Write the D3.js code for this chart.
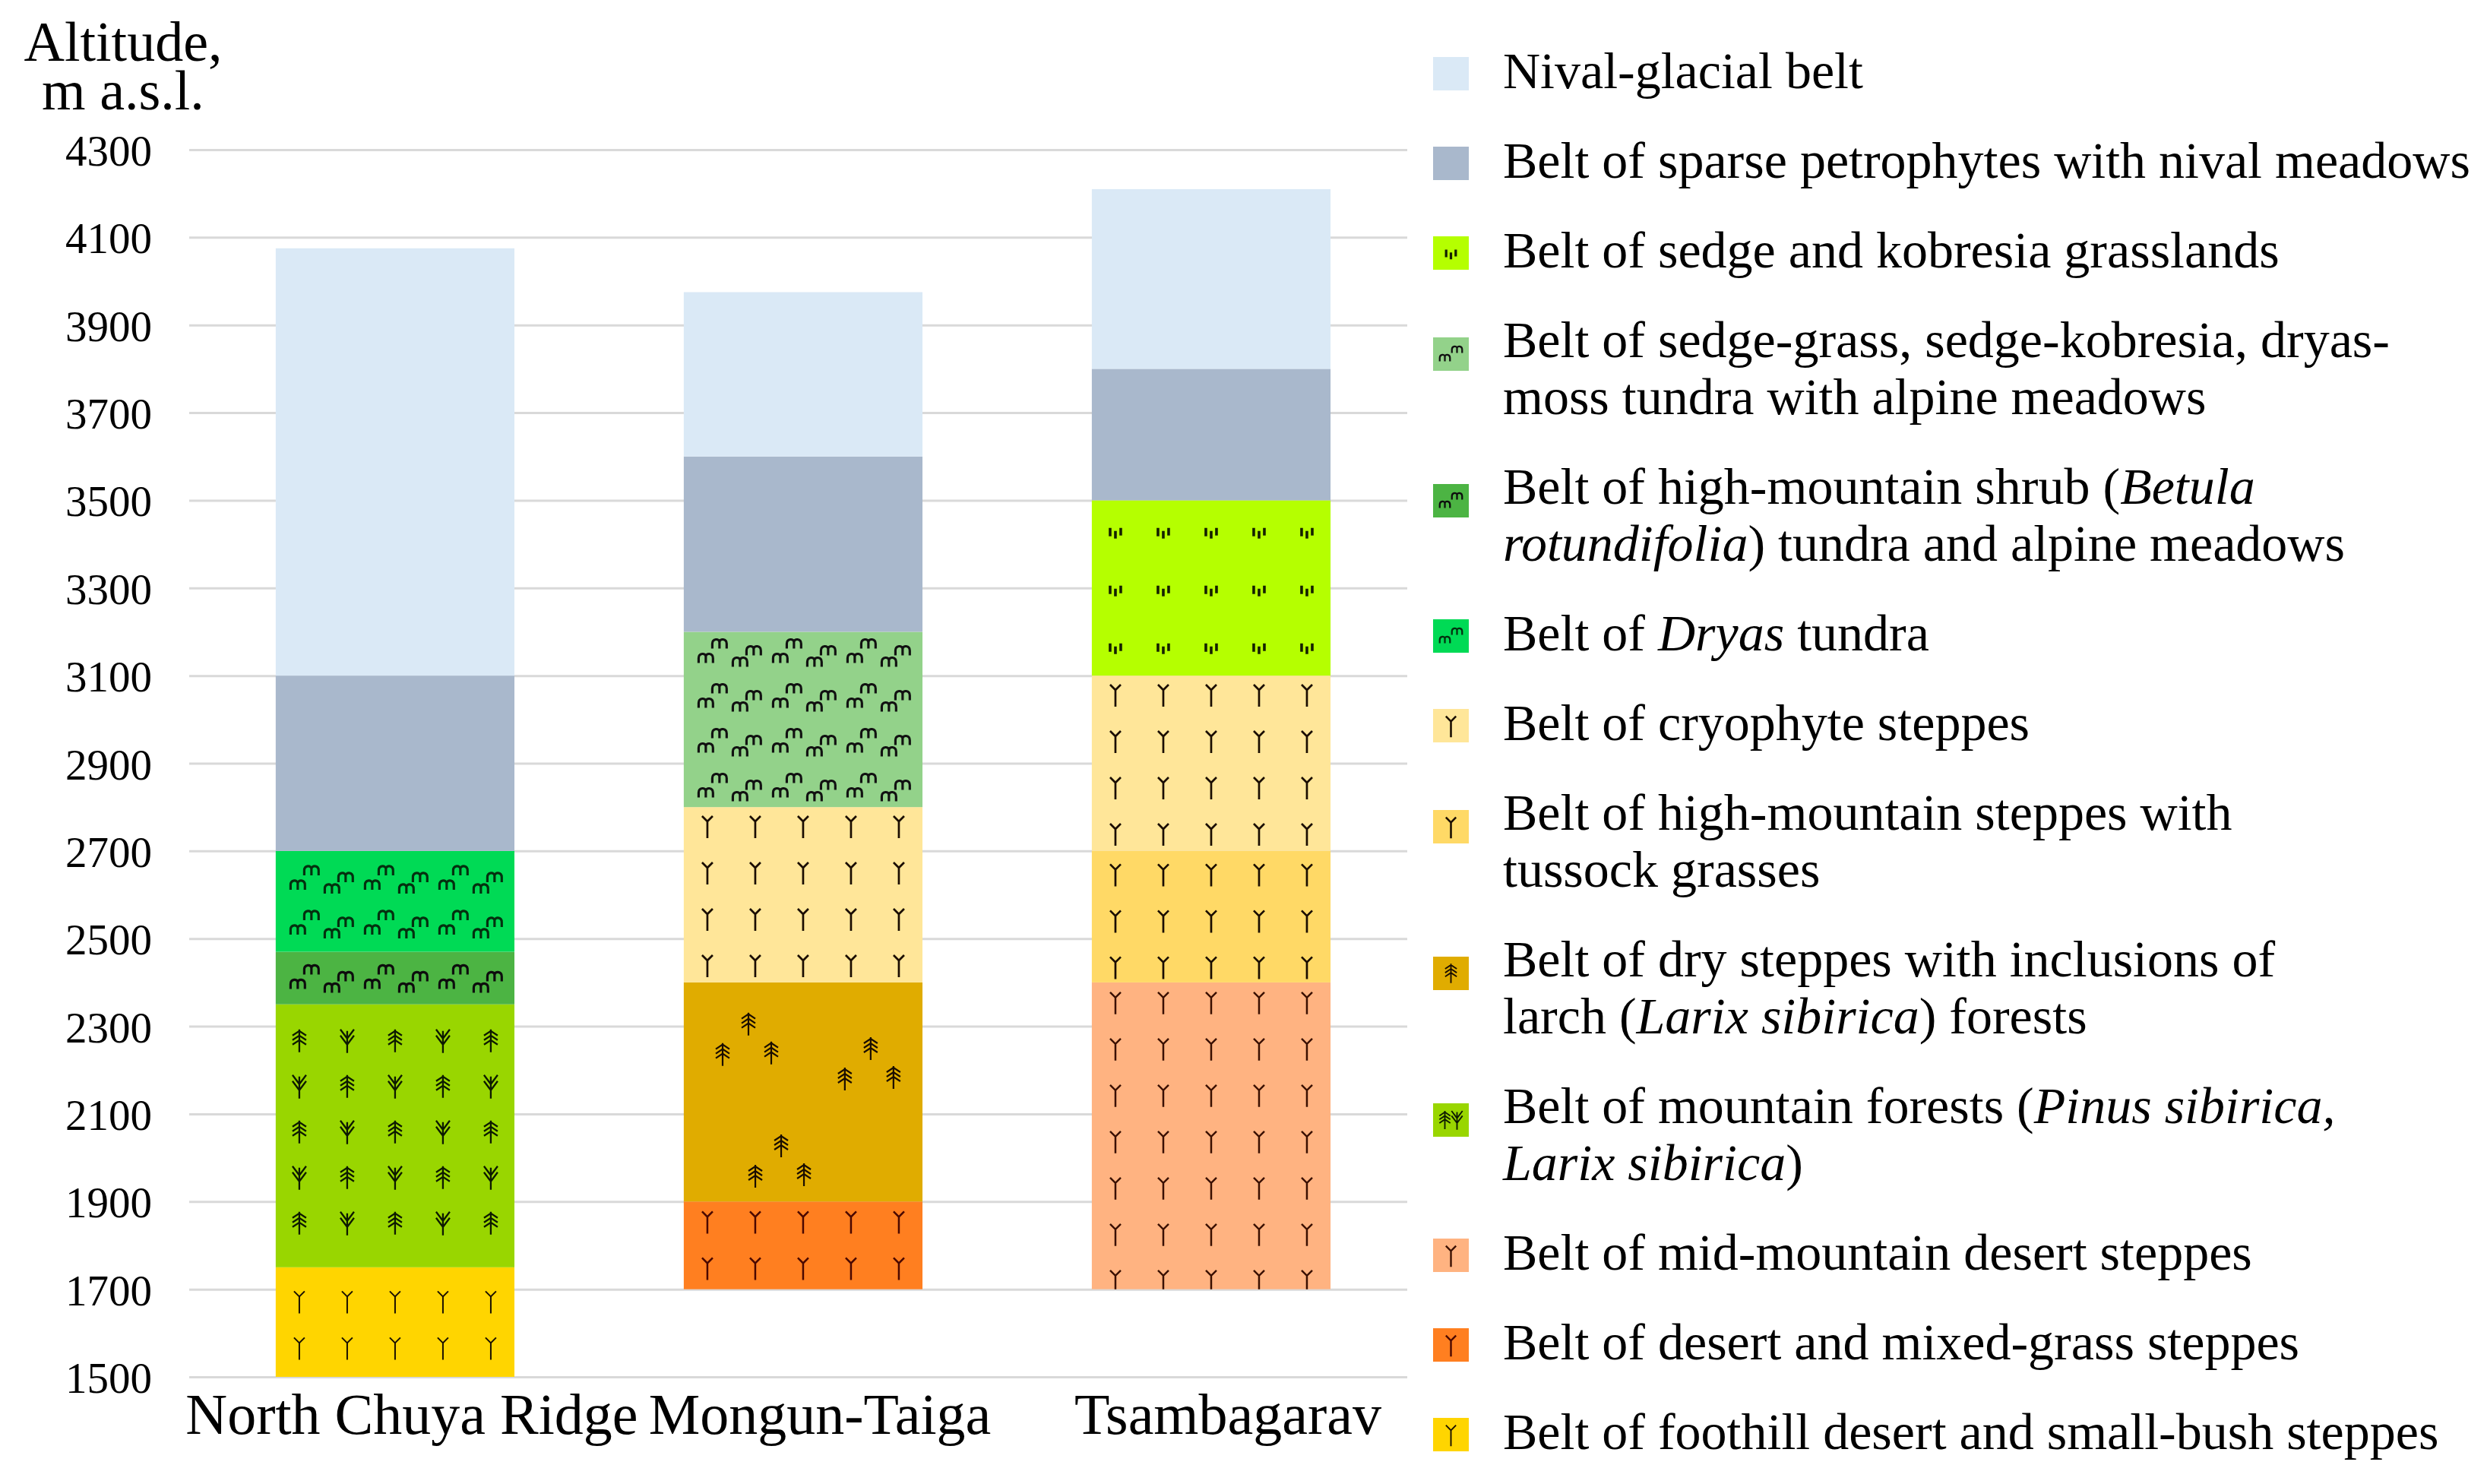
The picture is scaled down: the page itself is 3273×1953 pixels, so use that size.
<!DOCTYPE html>
<html>
<head>
<meta charset="utf-8">
<script src="https://cdn.jsdelivr.net/npm/d3@7"></script>
<style>
  body { margin: 0; background: #fff; }
  svg { display: block; }
  text { font-family: "Liberation Serif", "Times New Roman", serif; fill: #000; white-space: pre; }
</style>
</head>
<body>
<svg id="chart"></svg>
<script>
// ---------------- DATA ----------------
const categories = ["North Chuya Ridge", "Mongun-Taiga", "Tsambagarav"];
const yTicks = [1500, 1700, 1900, 2100, 2300, 2500, 2700, 2900, 3100, 3300, 3500, 3700, 3900, 4100, 4300];
const yTickLabels = ["1500", "1700", "1900", "2100", "2300", "2500", "2700", "2900", "3100", "3300", "3500", "3700", "3900", "4100", "4300"];
const yTitle = ["Altitude,", "m a.s.l."];

const beltKeys = ["nival", "petro", "sedge", "sedgeTundra", "shrubTundra", "dryas", "cryo",
                  "highSteppe", "dryLarch", "forest", "midDesert", "desertMixed", "foothill"];
const beltColors = ["#dae9f6", "#a9b8cc", "#b5ff00", "#93d28a", "#4cb443", "#00da55", "#ffe699",
                    "#ffd966", "#e0ac00", "#99d600", "#ffb381", "#ff7f20", "#ffd500"];
// each label: lines -> segments [text, italic]
const beltLabels = [
  [[["Nival-glacial belt", 0]]],
  [[["Belt of sparse petrophytes with nival meadows", 0]]],
  [[["Belt of sedge and kobresia grasslands", 0]]],
  [[["Belt of sedge-grass, sedge-kobresia, dryas-", 0]], [["moss tundra with alpine meadows", 0]]],
  [[["Belt of high-mountain shrub (", 0], ["Betula", 1]], [["rotundifolia", 1], [") tundra and alpine meadows", 0]]],
  [[["Belt of ", 0], ["Dryas", 1], [" tundra", 0]]],
  [[["Belt of cryophyte steppes", 0]]],
  [[["Belt of high-mountain steppes with", 0]], [["tussock grasses", 0]]],
  [[["Belt of dry steppes with inclusions of", 0]], [["larch (", 0], ["Larix sibirica", 1], [") forests", 0]]],
  [[["Belt of mountain forests (", 0], ["Pinus sibirica,", 1]], [["Larix sibirica", 1], [")", 0]]],
  [[["Belt of mid-mountain desert steppes", 0]]],
  [[["Belt of desert and mixed-grass steppes", 0]]],
  [[["Belt of foothill desert and small-bush steppes", 0]]]
];

// belt boundaries (m a.s.l.) from bottom to top, and the belt occupying each interval
const northChuyaBounds = [1500, 1750, 2350, 2470, 2700, 3100, 4075];
const northChuyaBelts  = ["foothill", "forest", "shrubTundra", "dryas", "petro", "nival"];
const mongunTaigaBounds = [1700, 1900, 2400, 2800, 3200, 3600, 3975];
const mongunTaigaBelts  = ["desertMixed", "dryLarch", "cryo", "sedgeTundra", "petro", "nival"];
const tsambagaravBounds = [1700, 2400, 2700, 3100, 3500, 3800, 4210];
const tsambagaravBelts  = ["midDesert", "highSteppe", "cryo", "sedge", "petro", "nival"];

// ---------------- LAYOUT / STYLE ----------------
const W = 3273, H = 1953;
const plotLeft = 249, plotRight = 1852, plotTop = 197, plotBottom = 1812;
const FONT = '"Liberation Serif", "Times New Roman", serif';

const glyphPaths = {
  steppe: "M-7,-14 L0,-7 L7,-14 M0,-7 L0,15",
  sedge: "M-7,-6 L-7,5 M0,-2 L0,8 M7,-6 L7,4",
  tundra: "M0,6 L0,-2 C0,-7 -9,-7 -9,0 L-9,6 M0,-2 C0,-7 9,-7 9,0 L9,6",
  spruce: "M0,-15 L0,15 M-9,-7 L0,-13 L9,-7 M-9,-1 L0,-7 L9,-1 M-9,5 L0,-1 L9,5",
  pine: "M0,-13 L0,16 M-9,-15 L0,-3 L9,-15 M-9,-7 L0,5 L9,-7"
};

const patternStyle = {
  sedge:       { kind: "grid", glyphs: ["sedge"], cols: 5, colStep: 63, rowStep: 76, shift: 3, color: "#142000", sw: 3.6 },
  sedgeTundra: { kind: "tundra", color: "#111111", sw: 3 },
  shrubTundra: { kind: "tundra", color: "#0d0d0d", sw: 3 },
  dryas:       { kind: "tundra", color: "#04300f", sw: 3 },
  cryo:        { kind: "grid", glyphs: ["steppe"], cols: 5, colStep: 63, rowStep: 61, shift: 2, color: "#1a0d00", sw: 2.7 },
  highSteppe:  { kind: "grid", glyphs: ["steppe"], cols: 5, colStep: 63, rowStep: 61, shift: 6, color: "#1a0d00", sw: 2.7 },
  midDesert:   { kind: "grid", glyphs: ["steppe"], cols: 5, colStep: 63, rowStep: 61, shift: 8, color: "#3a1000", sw: 2.5 },
  desertMixed: { kind: "grid", glyphs: ["steppe"], cols: 5, colStep: 63, rowStep: 61, shift: 0, color: "#4a0800", sw: 2.5 },
  foothill:    { kind: "grid", glyphs: ["steppe"], cols: 5, colStep: 63, rowStep: 61, shift: 4, color: "#1a1000", sw: 2 },
  forest:      { kind: "grid", glyphs: ["spruce", "pine"], cols: 5, colStep: 63, rowStep: 60, floor: true, shift: -5, color: "#0d1a00", sw: 2.3 },
  dryLarch:    { kind: "scatter", anchors: [[0.271, 0.19], [0.783, 0.302], [0.408, 0.746]],
                 cluster: [[0, 0], [-34, 40], [30, 38]], glyph: "spruce", color: "#1a0d00", sw: 2.2 }
};

const legendGlyphs = {
  sedge: [["sedge", 0, 1, 0.9]],
  sedgeTundra: [["tundra", -8, 5, 0.75], ["tundra", 8, -6, 0.75]],
  shrubTundra: [["tundra", -8, 5, 0.75], ["tundra", 8, -6, 0.75]],
  dryas: [["tundra", -8, 5, 0.75], ["tundra", 8, -6, 0.75]],
  cryo: [["steppe", 0, 1, 0.95]],
  highSteppe: [["steppe", 0, 1, 0.95]],
  midDesert: [["steppe", 0, 1, 0.95]],
  desertMixed: [["steppe", 0, 1, 0.95]],
  foothill: [["steppe", 0, 1, 0.95]],
  dryLarch: [["spruce", 0, 0, 0.85]],
  forest: [["spruce", -8, 0, 0.8], ["pine", 8, 0, 0.8]]
};

// ---------------- SCALES ----------------
const y = d3.scaleLinear().domain([1500, 4300]).range([plotBottom, plotTop]);
const x = d3.scaleBand().domain(categories).range([plotLeft, plotRight])
  .paddingInner(0.415).paddingOuter(0.2).align(0.53);
const color = d3.scaleOrdinal().domain(beltKeys).range(beltColors);

const svg = d3.select("#chart").attr("width", W).attr("height", H).attr("viewBox", `0 0 ${W} ${H}`);
svg.append("rect").attr("width", W).attr("height", H).attr("fill", "#fff");
const defs = svg.append("defs");

// ---------------- AXIS / GRID ----------------
const gy = svg.append("g").attr("transform", `translate(${plotLeft},0)`)
  .call(d3.axisLeft(y).tickValues(yTicks).tickFormat((d, i) => yTickLabels[i])
    .tickSize(-(plotRight - plotLeft)).tickPadding(49));
gy.select(".domain").remove();
gy.attr("font-family", FONT).attr("font-size", 57);
gy.selectAll(".tick line").attr("stroke", "#d9d9d9").attr("stroke-width", 3);
gy.selectAll(".tick text").attr("fill", "#000").attr("dy", "0.36em");

// y title
svg.append("text").attr("x", 162).attr("text-anchor", "middle").attr("font-size", 74)
  .selectAll("tspan").data(yTitle).join("tspan")
  .attr("x", 162).attr("y", (d, i) => 80 + i * 64).text(d => d);

// ---------------- BARS ----------------
const stacks = [
  { cat: categories[0], bounds: northChuyaBounds, belts: northChuyaBelts },
  { cat: categories[1], bounds: mongunTaigaBounds, belts: mongunTaigaBelts },
  { cat: categories[2], bounds: tsambagaravBounds, belts: tsambagaravBelts }
];
const segments = stacks.flatMap(s => s.belts.map((b, i) => ({ cat: s.cat, belt: b, lo: s.bounds[i], hi: s.bounds[i + 1] })));

function glyphPositions(seg) {
  const st = patternStyle[seg.belt];
  if (!st) return [];
  const x0 = x(seg.cat), w = x.bandwidth();
  const y0 = y(seg.hi), h = y(seg.lo) - y(seg.hi);
  const out = [];
  if (st.kind === "grid") {
    const n = Math.max(1, st.floor ? Math.floor(h / st.rowStep) : Math.round(h / st.rowStep));
    const start = (h - (n - 1) * st.rowStep) / 2 + st.shift;
    const cstart = (w - (st.cols - 1) * st.colStep) / 2;
    for (let r = 0; r < n; r++) for (let c = 0; c < st.cols; c++) {
      out.push({ g: st.glyphs[(r + c) % st.glyphs.length], x: x0 + cstart + c * st.colStep, y: y0 + start + r * st.rowStep, s: 1 });
    }
  } else if (st.kind === "tundra") {
    const step = 59, period = 98;
    const cl = [[0, 6], [18, -13], [45, 11], [63, -4]];
    const n = Math.max(1, Math.round(h / step));
    const start = (h - (n - 1) * step) / 2 + 2;
    for (let r = 0; r < n; r++) for (let p = 0; p < 3; p++) for (const [dx, dy] of cl) {
      out.push({ g: "tundra", x: x0 + 29 + p * period + dx, y: y0 + start + r * step + dy, s: 1.05 });
    }
  } else if (st.kind === "scatter") {
    for (const [fx, fy] of st.anchors) for (const [dx, dy] of st.cluster) {
      out.push({ g: st.glyph, x: x0 + fx * w + dx, y: y0 + fy * h + dy, s: 1 });
    }
  }
  return out;
}

const barG = svg.append("g");
segments.forEach((seg, i) => {
  const rx = x(seg.cat), ry = y(seg.hi), rw = x.bandwidth(), rh = y(seg.lo) - y(seg.hi);
  defs.append("clipPath").attr("id", "clip" + i).append("rect")
    .attr("x", rx).attr("y", ry).attr("width", rw).attr("height", rh);
  barG.append("rect").attr("x", rx).attr("y", ry).attr("width", rw).attr("height", rh)
    .attr("fill", color(seg.belt));
  const st = patternStyle[seg.belt];
  if (st) {
    barG.append("g").attr("clip-path", `url(#clip${i})`)
      .selectAll("path").data(glyphPositions(seg)).join("path")
      .attr("d", d => glyphPaths[d.g])
      .attr("transform", d => `translate(${d.x},${d.y}) scale(${d.s})`)
      .attr("fill", "none").attr("stroke", st.color).attr("stroke-width", st.sw)
      .attr("stroke-linecap", "butt").attr("stroke-linejoin", "miter");
  }
});

// x labels
svg.append("g").selectAll("text").data(categories).join("text")
  .attr("x", d => x(d) + x.bandwidth() / 2 + 22).attr("y", 1887)
  .attr("text-anchor", "middle").attr("font-size", 76).text(d => d);

// ---------------- LEGEND ----------------
const legG = svg.append("g");
const swX = 1886, swW = 47, swH = 44, txtX = 1978, lineH = 75, itemGap = 118;
let base = 116;
beltKeys.forEach((key, i) => {
  const lines = beltLabels[i];
  const cy = base - 19 + (lines.length - 1) * 15;
  legG.append("rect").attr("x", swX).attr("y", cy - swH / 2).attr("width", swW).attr("height", swH)
    .attr("fill", color(key));
  const lg = legendGlyphs[key];
  if (lg) {
    const st = patternStyle[key];
    legG.append("g").selectAll("path").data(lg).join("path")
      .attr("d", d => glyphPaths[d[0]])
      .attr("transform", d => `translate(${swX + swW / 2 + d[1]},${cy + d[2]}) scale(${d[3]})`)
      .attr("fill", "none").attr("stroke", st.color).attr("stroke-width", st.sw);
  }
  lines.forEach((segs, k) => {
    const t = legG.append("text").attr("x", txtX).attr("y", base + k * lineH).attr("font-size", 68);
    t.selectAll("tspan").data(segs).join("tspan")
      .attr("font-style", d => d[1] ? "italic" : "normal").text(d => d[0]);
  });
  base = base + (lines.length - 1) * lineH + itemGap;
});
</script>
</body>
</html>
